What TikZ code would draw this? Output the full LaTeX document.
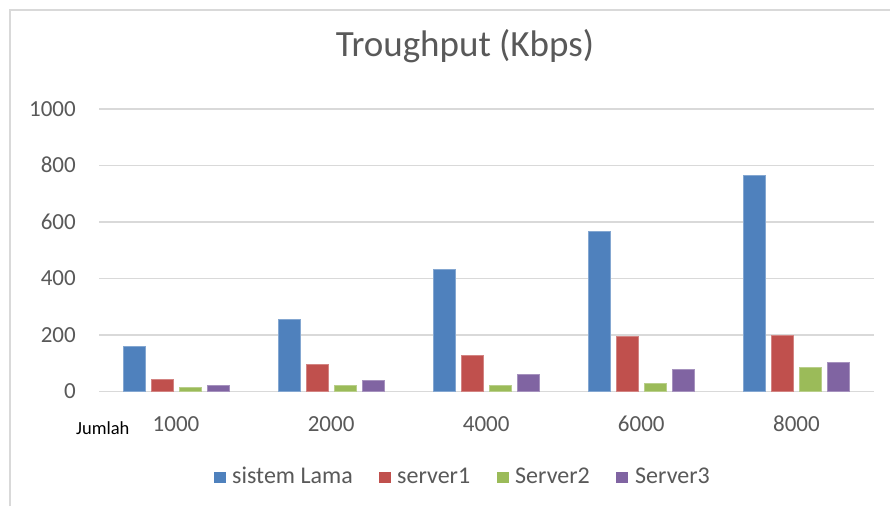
\documentclass[tikz,border=0pt]{standalone}
\usepackage{fontspec}
\setmainfont{Carlito}
\definecolor{sblue}{HTML}{4F81BD}
\definecolor{sred}{HTML}{C0504D}
\definecolor{sgreen}{HTML}{9BBB59}
\definecolor{spurple}{HTML}{8064A2}
\definecolor{txtgray}{HTML}{595959}
\definecolor{gridgray}{HTML}{D9D9D9}
\tikzset{
  frameline/.style={draw=gridgray, line width=1.3pt},
  gridline/.style={draw=gridgray, line width=1.5pt},
  bar/.style={fill=#1, draw=#1!70!white, line width=0.6pt},
  axislabel/.style={inner sep=0pt, text=txtgray, font=\fontsize{23}{27}\selectfont},
  keylabel/.style={inner sep=0pt, text=txtgray, font=\fontsize{24}{28}\selectfont},
  titlelabel/.style={inner sep=0pt, text=txtgray, font=\fontsize{37}{43}\selectfont},
  keybox/.style={fill=#1, draw=none},
}
\begin{document}
\begin{tikzpicture}[x=1pt, y=-1pt]
\useasboundingbox (0,0) rectangle (890,506);
\fill[white] (0,0) rectangle (890,506);
% chart frame (top and left edges)
\draw[frameline] (10,506) -- (10,10) -- (890,10);
% title
\node[titlelabel, anchor=base] (title) at (465,56.5) {Troughput (Kbps)};
% horizontal grid and value labels
\foreach \v in {0,200,400,600,800,1000} {
  \pgfmathsetmacro{\gy}{391.3-0.2825*\v}
  \draw[gridline] (99,\gy) -- (874,\gy);
  \node[axislabel, anchor=base east] (ylab\v) at (76,\gy+7.3) {\v};
}
% bars: sistem Lama, server1, Server2, Server3
\foreach \k/\lab/\a/\b/\c/\d in {0/1000/161/44/15/23, 1/2000/254/96/22/38, 2/4000/433/129/22/61, 3/6000/565/196/30/79, 4/8000/766/200/84/101} {
  \pgfmathsetmacro{\cx}{176+155.1*\k}
  \path[bar=sblue]   ({\cx-53},391.3) rectangle ({\cx-31},{391.3-0.2825*\a});
  \path[bar=sred]    ({\cx-25},391.3) rectangle ({\cx-3},{391.3-0.2825*\b});
  \path[bar=sgreen]  ({\cx+3},391.3)  rectangle ({\cx+25},{391.3-0.2825*\c});
  \path[bar=spurple] ({\cx+31},391.3) rectangle ({\cx+53},{391.3-0.2825*\d});
  \node[axislabel, anchor=base] (xlab\k) at (\cx,431.7) {\lab};
}
% axis caption
\node[inner sep=0pt, anchor=base west, font=\fontsize{18.5}{22}\selectfont, text=black] (jumlah) at (76,434.3) {Jumlah};
% legend
\path[keybox=sblue]   (214,471.7) rectangle (226.3,483.3);
\node[keylabel, anchor=base west] (leg1) at (232,483.3) {sistem Lama};
\path[keybox=sred]    (379,471.7) rectangle (391.3,483.3);
\node[keylabel, anchor=base west] (leg2) at (397,483.3) {server1};
\path[keybox=sgreen]  (497,471.7) rectangle (509.3,483.3);
\node[keylabel, anchor=base west] (leg3) at (515,483.3) {Server2};
\path[keybox=spurple] (616,471.7) rectangle (628.3,483.3);
\node[keylabel, anchor=base west] (leg4) at (635,483.3) {Server3};
\end{tikzpicture}
\end{document}
